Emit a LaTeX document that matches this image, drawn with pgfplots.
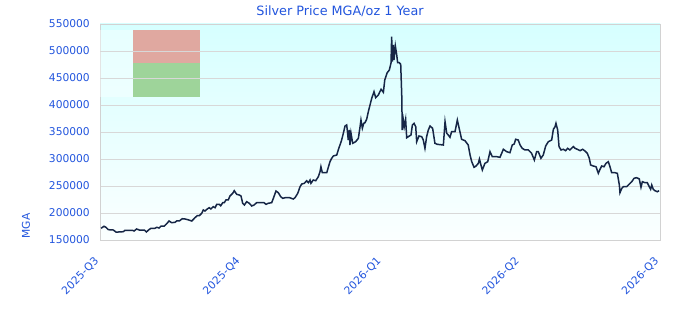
\documentclass[border=0pt]{standalone}
\usepackage{fontspec}
\setmainfont{DejaVu Sans}
\usepackage{pgfplots}
\pgfplotsset{compat=1.18}
\definecolor{tickblue}{RGB}{34,85,221}
\definecolor{navy}{RGB}{22,38,70}
\definecolor{gridgray}{RGB}{216,216,216}
\definecolor{bordergray}{RGB}{210,210,210}
\definecolor{bgtop}{RGB}{214,255,255}
\definecolor{bgbot}{RGB}{251,255,255}
\definecolor{pinkbox}{RGB}{224,168,160}
\definecolor{greenbox}{RGB}{158,212,154}
\begin{document}
\begin{tikzpicture}
\useasboundingbox (0bp,0bp) rectangle (680bp,320bp);
\begin{axis}[
  at={(100bp,80bp)}, anchor=south west,
  scale only axis, width=560bp, height=216bp,
  xmin=0, xmax=365, ymin=150000, ymax=550000,
  axis background/.style={shade, top color=bgtop, bottom color=bgbot},
  axis line style={bordergray, line width=0.8bp},
  tick style={draw=none},
  ymajorgrids, grid style={gridgray, line width=0.8bp},
  scaled y ticks=false,
  ytick={150000,200000,250000,300000,350000,400000,450000,500000,550000},
  yticklabels={150000,200000,250000,300000,350000,400000,450000,500000,550000},
  yticklabel style={font=\fontsize{10.7bp}{12bp}\selectfont, text=tickblue, anchor=east, inner sep=0pt, xshift=-10bp},
  xtick={0,92,184,274,365},
  xticklabels={2025-Q3,2025-Q4,2026-Q1,2026-Q2,2026-Q3},
  xticklabel style={font=\fontsize{10.7bp}{12bp}\selectfont, text=tickblue, rotate=45, anchor=north east, inner sep=0pt, xshift=-16bp, yshift=-7bp},
  title={Silver Price MGA/oz 1 Year},
  title style={at={(0.4286,1)}, anchor=base, yshift=3bp, inner sep=0pt, font=\fontsize{12.8bp}{15bp}\selectfont, text=tickblue},
  ylabel={MGA},
  ylabel style={at={(axis description cs:-0.132,0.065)}, anchor=center, inner sep=0pt, font=\fontsize{10.7bp}{12bp}\selectfont, text=tickblue},
]
\fill[white, opacity=0.4] (axis cs:0,414815) rectangle (axis cs:21.5,538889);
\fill[pinkbox] (axis cs:21.5,477778) rectangle (axis cs:65.2,538889);
\fill[greenbox] (axis cs:21.5,414815) rectangle (axis cs:65.2,477778);
\draw[gridgray, line width=0.8bp] (axis cs:0,500000) -- (axis cs:65.2,500000);
\draw[gridgray, line width=0.8bp] (axis cs:0,450000) -- (axis cs:65.2,450000);
\addplot[navy, line width=1.5bp] table {
x y
0.7 171700
2.6 175400
3.9 173500
5.4 169100
8.7 168500
10.4 164800
11.9 164800
15.2 165400
16.3 168000
21.1 168000
22.2 166700
23.9 170400
25.6 168500
28.9 168500
30.2 164800
31.9 169100
33.2 171700
35.8 171700
37.0 173500
38.5 172200
39.8 175900
41.9 175900
43.5 180200
45.0 185200
46.7 182000
48.9 182800
50.0 185200
51.7 185200
53.6 189400
55.4 188900
57.2 187600
59.8 185200
61.9 191300
63.4 195000
64.7 195000
66.3 199400
67.3 205600
68.4 203700
69.9 207400
71.2 209800
72.3 207400
73.8 211700
75.0 209800
76.1 216100
77.8 216100
78.7 213500
80.0 219100
81.0 219100
82.1 224100
83.6 224100
84.7 231500
86.5 236500
87.5 241300
89.1 234600
90.8 233300
91.9 231500
93.0 218000
94.1 214800
95.6 220900
97.3 218000
98.9 213000
100.4 214800
102.1 219100
105.4 219100
106.9 219100
108.2 216100
109.7 218000
111.9 219100
113.0 227200
114.7 240700
116.2 237600
117.8 230200
119.1 227200
120.6 228300
123.6 228300
126.0 225900
127.1 228300
128.9 236500
130.4 248700
131.5 253700
133.2 255000
134.7 259800
135.8 256100
136.9 261100
137.5 255000
139.0 261100
140.6 259800
142.3 267200
143.4 276500
144.0 285700
144.9 274600
147.8 274600
148.8 284600
149.9 295000
151.0 301300
152.1 305600
154.3 307400
155.3 316700
156.4 325900
157.5 335200
158.6 347600
159.7 361100
160.8 363000
161.4 347600
161.8 335200
162.5 353700
162.9 325900
163.6 347600
164.7 329100
166.6 332000
168.4 338300
169.5 359800
170.1 372200
171.0 356900
171.9 366100
172.7 367200
173.8 373500
174.9 387600
176.0 400000
177.1 412400
178.6 424600
179.7 413500
181.4 418500
183.2 429100
184.7 423500
185.6 446300
187.2 459800
188.6 464800
189.7 478300
190.1 526500
190.5 480200
191.2 511100
191.6 483300
192.5 509300
193.4 492600
194.0 478300
195.1 478300
196.0 475400
196.7 415400
197.0 353700
197.7 372200
198.3 359800
199.2 373500
199.9 339400
201.6 342600
202.7 344400
203.6 363000
204.7 366100
205.8 359800
206.4 332000
207.9 342600
209.7 341300
210.7 335200
211.8 319800
212.9 341300
214.0 353700
215.1 361100
216.8 356900
218.3 329100
219.8 327200
223.8 325900
224.9 369100
226.0 347600
227.0 344400
228.1 340200
229.2 350600
231.4 350600
232.9 372200
234.1 356900
235.7 336500
237.9 333900
240.0 325900
241.2 307400
242.3 295000
243.8 284600
245.1 287000
246.6 292000
247.3 300000
248.3 288900
249.2 279600
250.9 292000
252.7 295000
254.2 313500
255.7 304300
258.6 304300
260.7 303100
262.9 318000
265.1 313500
267.2 311700
268.7 325900
270.0 327800
270.9 336500
272.6 335200
273.8 325900
275.2 319800
277.0 316700
279.2 316700
281.3 310600
283.1 298100
284.6 313500
285.7 313500
287.4 301300
288.9 307400
290.5 324100
292.2 332000
294.4 335200
295.5 355000
296.6 359800
297.2 366100
298.3 353700
299.2 322800
300.5 316700
302.0 318000
303.5 315400
304.8 319800
306.3 316700
308.5 323000
309.6 319800
311.1 318000
312.9 315400
314.6 318000
316.1 314800
317.6 310600
318.9 301300
319.8 288900
321.5 287000
323.3 285700
324.8 273500
325.9 280900
327.0 287000
328.5 285700
329.8 292000
331.3 295000
332.4 285700
333.5 274600
335.7 274600
337.2 273500
338.5 251900
338.9 237600
340.1 245700
341.1 248700
343.3 248700
345.0 253700
346.6 258000
348.1 264300
349.8 265400
351.5 263000
352.6 247600
353.5 258000
355.2 256100
356.7 256100
358.0 248700
358.9 243900
359.6 251900
360.6 243900
361.7 241300
363.3 239400
364.4 241300
};
\end{axis}
\end{tikzpicture}
\end{document}
